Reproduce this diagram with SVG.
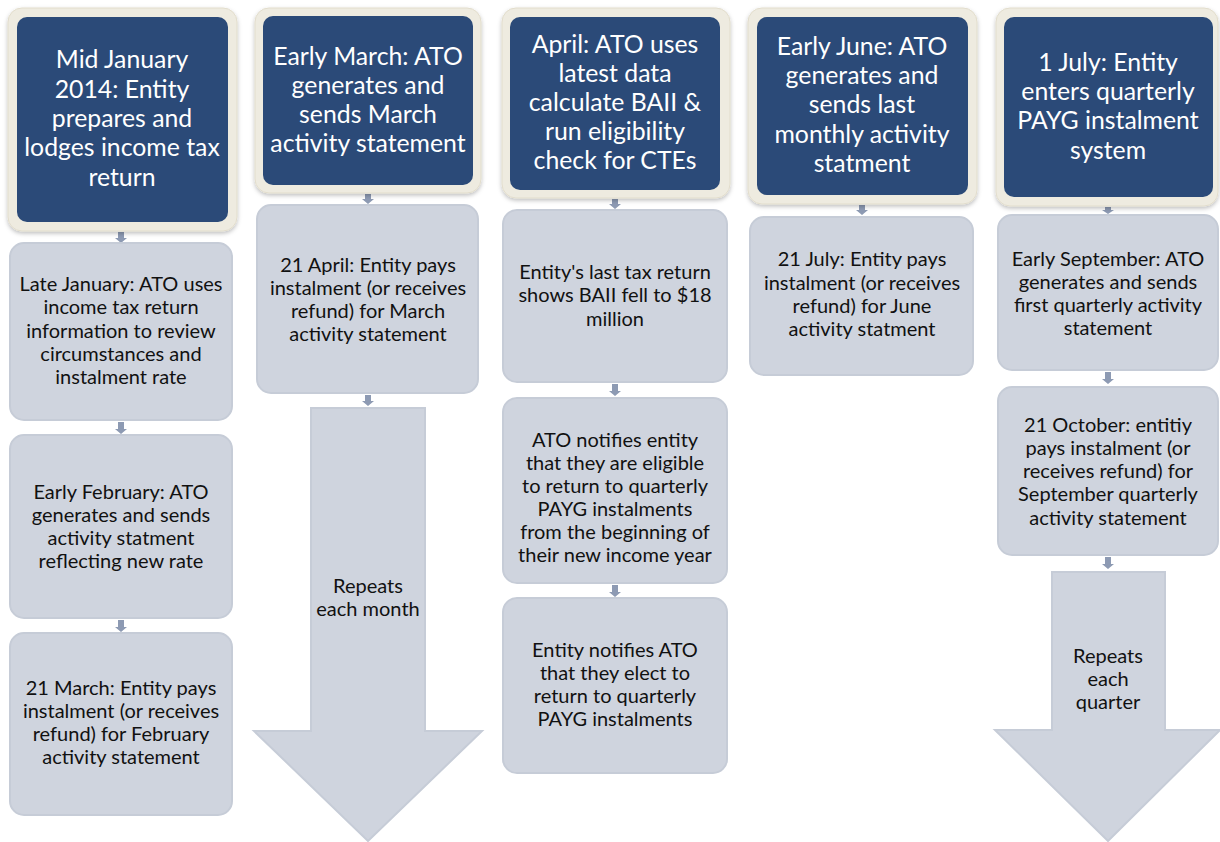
<svg xmlns="http://www.w3.org/2000/svg" width="1220" height="842" viewBox="0 0 1220 842">
<defs>
<filter id="sh" x="-10%" y="-10%" width="120%" height="120%">
<feDropShadow dx="0" dy="2" stdDeviation="2" flood-color="#000" flood-opacity="0.25"/>
</filter>
<style>
.frame{fill:#eeebe0;stroke:#e2ddcc;stroke-width:1}
.navy{fill:#2b4a78}
.box{fill:#cfd4de;stroke:#c6ccd7;stroke-width:2}
.big{fill:#cfd4de;stroke:#c6ccd7;stroke-width:2}
.ht{font-family:Lato,"Liberation Sans",sans-serif;font-size:24.8px;fill:#ffffff;text-anchor:middle}
.bt{font-family:Lato,"Liberation Sans",sans-serif;font-size:20px;fill:#111111;text-anchor:middle}
.con{fill:#8d9ab3}
</style>
</defs>
<rect width="1220" height="842" fill="#ffffff"/>

<g id="connectors">
<path class="con" d="M118,232h6v6h3l-6,5l-6,-5h3z"/>
<path class="con" d="M118,422h6v7h3l-6,5l-6,-5h3z"/>
<path class="con" d="M118,620h6v7h3l-6,5l-6,-5h3z"/>
<path class="con" d="M365,194h6v5h3l-6,5l-6,-5h3z"/>
<path class="con" d="M365,395h6v6h3l-6,5l-6,-5h3z"/>
<path class="con" d="M612,199h6v5h3l-6,5l-6,-5h3z"/>
<path class="con" d="M612,384h6v7h3l-6,5l-6,-5h3z"/>
<path class="con" d="M612,585h6v7h3l-6,5l-6,-5h3z"/>
<path class="con" d="M859,205h6v5h3l-6,5l-6,-5h3z"/>
<path class="con" d="M1105,207h6v3h3l-6,4l-6,-4h3z"/>
<path class="con" d="M1105,372h6v7h3l-6,5l-6,-5h3z"/>
<path class="con" d="M1105,557h6v7h3l-6,5l-6,-5h3z"/>
</g>

<g id="h1">
<rect class="frame" x="8" y="8" width="229" height="223" rx="14" filter="url(#sh)"/>
<rect class="navy" x="17" y="17" width="211" height="205" rx="10"/>
<text class="ht"><tspan x="122" y="68">Mid January</tspan><tspan x="122" y="98">2014: Entity</tspan><tspan x="122" y="127">prepares and</tspan><tspan x="122" y="156">lodges income tax</tspan><tspan x="122" y="186">return</tspan></text>
</g>
<g id="b1a">
<rect class="box" x="10" y="243" width="222" height="177" rx="14"/>
<text class="bt"><tspan x="121" y="291">Late January: ATO uses</tspan><tspan x="121" y="314">income tax return</tspan><tspan x="121" y="338">information to review</tspan><tspan x="121" y="361">circumstances and</tspan><tspan x="121" y="384">instalment rate</tspan></text>
</g>
<g id="b1b">
<rect class="box" x="10" y="435" width="222" height="183" rx="14"/>
<text class="bt"><tspan x="121" y="499">Early February: ATO</tspan><tspan x="121" y="522">generates and sends</tspan><tspan x="121" y="545">activity statment</tspan><tspan x="121" y="568">reflecting new rate</tspan></text>
</g>
<g id="b1c">
<rect class="box" x="10" y="633" width="222" height="182" rx="14"/>
<text class="bt"><tspan x="121" y="695">21 March: Entity pays</tspan><tspan x="121" y="718">instalment (or receives</tspan><tspan x="121" y="741">refund) for February</tspan><tspan x="121" y="764">activity statement</tspan></text>
</g>

<g id="h2">
<rect class="frame" x="255" y="8" width="226" height="185" rx="14" filter="url(#sh)"/>
<rect class="navy" x="263" y="16" width="210" height="169" rx="10"/>
<text class="ht"><tspan x="368" y="65">Early March: ATO</tspan><tspan x="368" y="94">generates and</tspan><tspan x="368" y="123">sends March</tspan><tspan x="368" y="152">activity statement</tspan></text>
</g>
<g id="b2a">
<rect class="box" x="257" y="205" width="221" height="188" rx="14"/>
<text class="bt"><tspan x="368" y="272">21 April: Entity pays</tspan><tspan x="368" y="295">instalment (or receives</tspan><tspan x="368" y="318">refund) for March</tspan><tspan x="368" y="341">activity statement</tspan></text>
</g>
<g id="r2">
<path class="big" d="M311,408H425V731H482L368,841L254,731H311Z"/>
<text class="bt"><tspan x="368" y="593">Repeats</tspan><tspan x="368" y="616">each month</tspan></text>
</g>

<g id="h3">
<rect class="frame" x="502" y="8" width="228" height="190" rx="14" filter="url(#sh)"/>
<rect class="navy" x="510" y="17" width="210" height="173" rx="10"/>
<text class="ht"><tspan x="615" y="53">April: ATO uses</tspan><tspan x="615" y="82">latest data</tspan><tspan x="615" y="111">calculate BAII &amp;</tspan><tspan x="615" y="140">run eligibility</tspan><tspan x="615" y="169">check for CTEs</tspan></text>
</g>
<g id="b3a">
<rect class="box" x="503" y="210" width="224" height="172" rx="14"/>
<text class="bt"><tspan x="615" y="279">Entity's last tax return</tspan><tspan x="615" y="302">shows BAII fell to $18</tspan><tspan x="615" y="326">million</tspan></text>
</g>
<g id="b3b">
<rect class="box" x="503" y="398" width="224" height="185" rx="14"/>
<text class="bt"><tspan x="615" y="447">ATO notifies entity</tspan><tspan x="615" y="470">that they are eligible</tspan><tspan x="615" y="493">to return to quarterly</tspan><tspan x="615" y="516">PAYG instalments</tspan><tspan x="615" y="539">from the beginning of</tspan><tspan x="615" y="562">their new income year</tspan></text>
</g>
<g id="b3c">
<rect class="box" x="503" y="598" width="224" height="175" rx="14"/>
<text class="bt"><tspan x="615" y="657">Entity notifies ATO</tspan><tspan x="615" y="680">that they elect to</tspan><tspan x="615" y="703">return to quarterly</tspan><tspan x="615" y="726">PAYG instalments</tspan></text>
</g>

<g id="h4">
<rect class="frame" x="748" y="8" width="229" height="196" rx="14" filter="url(#sh)"/>
<rect class="navy" x="757" y="17" width="211" height="178" rx="10"/>
<text class="ht"><tspan x="862" y="55">Early June: ATO</tspan><tspan x="862" y="84">generates and</tspan><tspan x="862" y="113">sends last</tspan><tspan x="862" y="143">monthly activity</tspan><tspan x="862" y="172">statment</tspan></text>
</g>
<g id="b4a">
<rect class="box" x="750" y="217" width="223" height="158" rx="14"/>
<text class="bt"><tspan x="862" y="266">21 July: Entity pays</tspan><tspan x="862" y="290">instalment (or receives</tspan><tspan x="862" y="313">refund) for June</tspan><tspan x="862" y="336">activity statment</tspan></text>
</g>

<g id="h5">
<rect class="frame" x="996" y="8" width="222" height="198" rx="14" filter="url(#sh)"/>
<rect class="navy" x="1004" y="17" width="209" height="180" rx="10"/>
<text class="ht"><tspan x="1108" y="71">1 July: Entity</tspan><tspan x="1108" y="100">enters quarterly</tspan><tspan x="1108" y="129">PAYG instalment</tspan><tspan x="1108" y="159">system</tspan></text>
</g>
<g id="b5a">
<rect class="box" x="998" y="215" width="220" height="155" rx="14"/>
<text class="bt"><tspan x="1108" y="266">Early September: ATO</tspan><tspan x="1108" y="289">generates and sends</tspan><tspan x="1108" y="312">first quarterly activity</tspan><tspan x="1108" y="335">statement</tspan></text>
</g>
<g id="b5b">
<rect class="box" x="998" y="387" width="220" height="168" rx="14"/>
<text class="bt"><tspan x="1108" y="432">21 October: entitiy</tspan><tspan x="1108" y="455">pays instalment (or</tspan><tspan x="1108" y="478">receives refund) for</tspan><tspan x="1108" y="501">September quarterly</tspan><tspan x="1108" y="525">activity statement</tspan></text>
</g>
<g id="r5">
<path class="big" d="M1052,572H1165V730H1220L1108,841L995,730H1052Z"/>
<text class="bt"><tspan x="1108" y="663">Repeats</tspan><tspan x="1108" y="686">each</tspan><tspan x="1108" y="709">quarter</tspan></text>
</g>
</svg>
